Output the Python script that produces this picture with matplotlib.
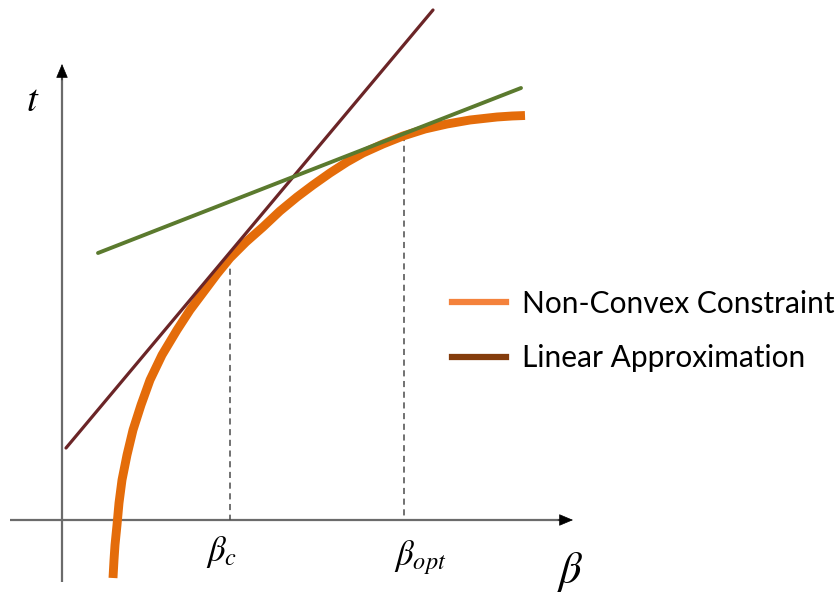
import matplotlib
matplotlib.use("Agg")
import matplotlib.pyplot as plt
from matplotlib.lines import Line2D

# ---- data (picture units: x right, y down) ----
curve_x = [113, 114, 115, 117, 119, 122, 127, 133, 141, 150, 162, 177, 190, 205, 217, 230, 246, 263, 280, 297,
           313, 330, 347, 363, 383, 403, 425, 447, 470, 497, 512, 525]
curve_y = [578, 560, 545, 525, 503, 480, 455, 430, 405, 380, 355, 330, 310, 290, 274, 258, 242, 227, 211, 197,
           185, 173, 162, 153, 144, 136, 129, 124, 120, 117, 116, 115.5]

tangent_c_x = [66, 433]
tangent_c_y = [448, 10]
tangent_opt_x = [98, 521]
tangent_opt_y = [253, 88]

beta_c = 230
beta_opt = 404
t_at_beta_c = 258
t_at_beta_opt = 135
x_axis_y = 520
y_axis_x = 62

legend_labels = ["Non-Convex Constraint", "Linear Approximation"]

# ---- style ----
plt.rcParams["mathtext.fontset"] = "stix"

fig = plt.figure(figsize=(8.39, 5.94), dpi=100)
ax = fig.add_axes([0, 0, 1, 1])
ax.set_xlim(0, 839)
ax.set_ylim(594, 0)
ax.axis("off")

axis_col = "#6b6b6b"
ax.plot([10, 562], [x_axis_y, x_axis_y], color=axis_col, lw=1.6, solid_capstyle="butt", zorder=1)
ax.plot([y_axis_x, y_axis_x], [582, 75], color=axis_col, lw=1.6, solid_capstyle="butt", zorder=1)
ax.annotate("", xy=(573, x_axis_y), xytext=(558, x_axis_y),
            arrowprops=dict(arrowstyle="-|>,head_length=0.9,head_width=0.38", color="black", lw=0.5,
                            shrinkA=0, shrinkB=0))
ax.annotate("", xy=(y_axis_x, 64), xytext=(y_axis_x, 80),
            arrowprops=dict(arrowstyle="-|>,head_length=0.9,head_width=0.38", color="black", lw=0.5,
                            shrinkA=0, shrinkB=0))

ax.plot([beta_c, beta_c], [t_at_beta_c, x_axis_y], color="#4a4a4a", lw=1.1, ls=(0, (4, 3)), zorder=2)
ax.plot([beta_opt, beta_opt], [t_at_beta_opt, x_axis_y], color="#4a4a4a", lw=1.1, ls=(0, (4, 3)), zorder=2)

ax.plot(curve_x, curve_y, color="#e46c0a", lw=6.4, solid_capstyle="butt", solid_joinstyle="round", zorder=3)
ax.plot(tangent_c_x, tangent_c_y, color="#6b2527", lw=2.3, solid_capstyle="round", zorder=4)
ax.plot(tangent_opt_x, tangent_opt_y, color="#5b7a2e", lw=2.8, solid_capstyle="round", zorder=4)

ax.text(222, 552, r"$\beta_c$", fontsize=25, ha="center", va="center")
ax.text(420, 558, r"$\beta_{opt}$", fontsize=25, ha="center", va="center")
ax.text(570, 572, r"$\beta$", fontsize=32, ha="center", va="center")
ax.text(33, 100, r"$t$", fontsize=28, ha="center", va="center")

handles = [Line2D([], [], color="#f4823c", lw=4.5),
           Line2D([], [], color="#843c0c", lw=4.5)]
ax.legend(handles, legend_labels, loc="center left", bbox_to_anchor=(452, 331),
          bbox_transform=ax.transData, frameon=False,
          prop={"family": "Lato", "size": 21.5},
          handlelength=1.8, handletextpad=0.55, labelspacing=0.9, borderpad=0, borderaxespad=0)

fig.savefig("out.png", dpi=100)
